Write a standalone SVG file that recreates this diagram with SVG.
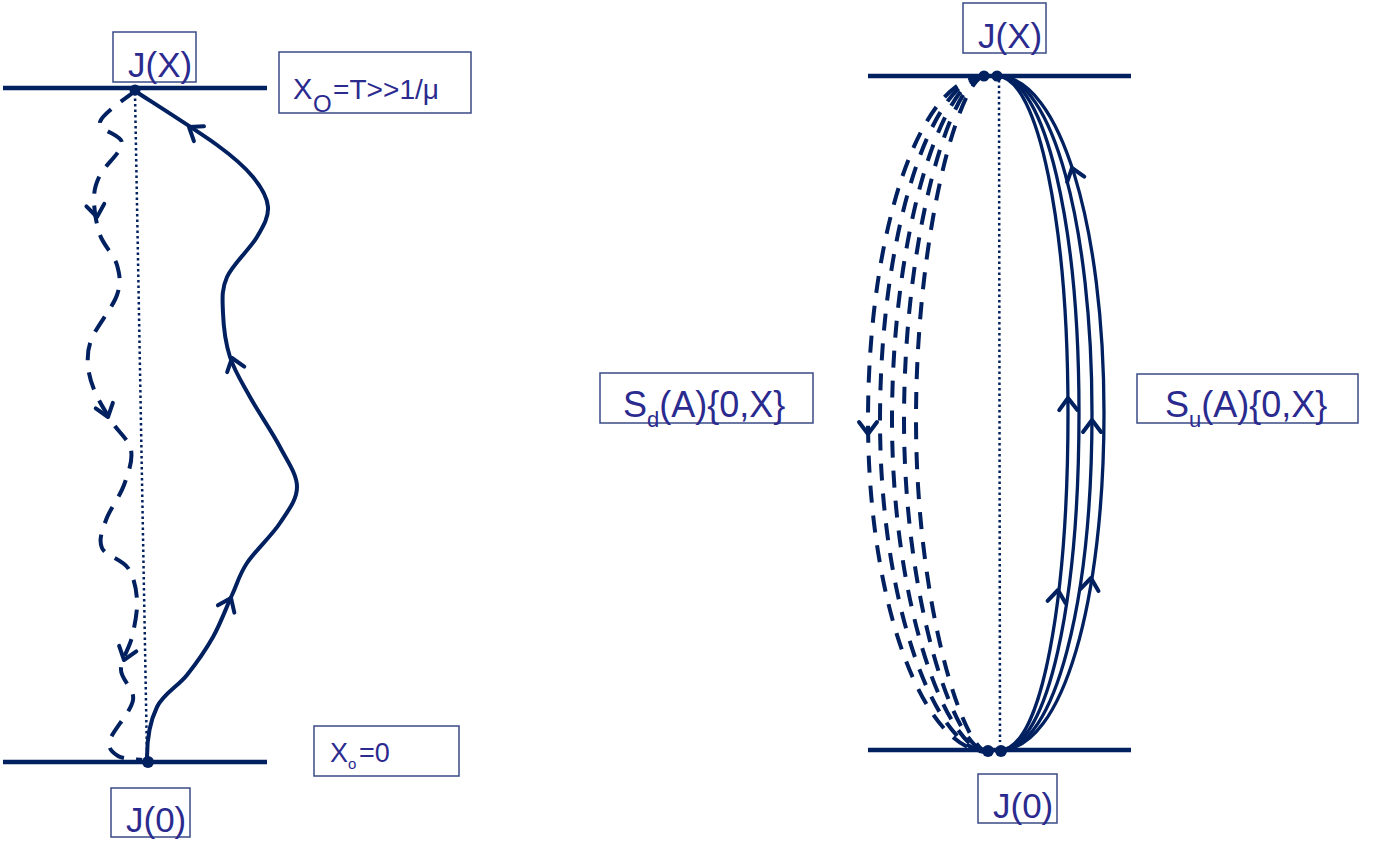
<svg xmlns="http://www.w3.org/2000/svg" xmlns:xlink="http://www.w3.org/1999/xlink" width="1375" height="842" viewBox="0 0 1375 842">
<style>
.axis{stroke:#002060;stroke-width:4.5;fill:none}
.dot{fill:#002060}
.dotted{stroke:#002060;stroke-width:2.5;stroke-dasharray:2.5 3;fill:none}
.sol{stroke:#002060;stroke-width:4;fill:none}
.dash{stroke:#002060;stroke-width:4;fill:none;stroke-dasharray:18 12}
.rsol{stroke:#002060;stroke-width:3.3;fill:none}
.rdash{stroke:#002060;stroke-width:4;fill:none;stroke-dasharray:17 13}
.chev{stroke:#002060;stroke-width:4;fill:none;stroke-linejoin:round;stroke-linecap:round}
.box{fill:none;stroke:#3a4a85;stroke-width:1.5}
.t{font-family:"Liberation Sans",Arial,sans-serif;fill:#2b2b8f}
</style>
<defs>
<path id="chev" d="M-9,12 L0,0 L9,12"/>
</defs>
<rect width="1375" height="842" fill="#ffffff"/>

<g id="left-axes">
<line class="axis" x1="3" y1="88" x2="267" y2="88"/>
<line class="axis" x1="3" y1="762" x2="267" y2="762"/>
<line class="dotted" x1="135" y1="93" x2="147" y2="757"/>
</g>

<g id="connectors">
<path class="sol" d="M147,757 C147,740 150.3,720.7 157,707 C163.7,693.3 177.7,686.7 187,675 C196.3,663.3 205.5,650.3 213,637 C220.5,623.7 226.3,607.3 232,595 C237.7,582.7 239,575 247,563 C255,551 271.7,535.7 280,523 C288.3,510.3 297,499.7 297,487 C297,474.3 287.8,462 280,447 C272.2,432 258.3,412 250,397 C241.7,382 234.5,371 230,357 C225.5,343 223.5,326.3 223,313 C222.5,299.7 221.3,289.7 227,277 C232.7,264.3 250.2,248.7 257,237 C263.8,225.3 268.7,217 268,207 C267.3,197 261.5,187.3 253,177 C244.5,166.7 236.7,159.3 217,145 C197.3,130.7 148.7,100 135,91"/>
<path class="dash" d="M135,91 C129.2,96.2 102.2,113.3 100,122 C97.8,130.7 122,134.2 122,143 C122,151.8 104.7,165.5 100,175 C95.3,184.5 94,190 94,200 C94,210 96.2,224.2 100,235 C103.8,245.8 114.2,255 117,265 C119.8,275 121.2,282.8 117,295 C112.8,307.2 96.8,326.3 92,338 C87.2,349.7 87.5,356 88,365 C88.5,374 91,382.5 95,392 C99,401.5 106,412.3 112,422 C118,431.7 129,439.5 131,450 C133,460.5 128.2,473.3 124,485 C119.8,496.7 109.7,509.5 106,520 C102.3,530.5 98.3,540 102,548 C105.7,556 122.2,559.3 128,568 C133.8,576.7 136.3,588.5 137,600 C137.7,611.5 134.7,625.3 132,637 C129.3,648.7 120.8,659.5 121,670 C121.2,680.5 134.8,688.3 133,700 C131.2,711.7 112.5,730.7 110,740 C107.5,749.3 112.7,752.7 118,756 C123.3,759.3 138,759.3 142,760"/>
<use href="#chev" class="chev" transform="translate(231,598) rotate(24)"/>
<use href="#chev" class="chev" transform="translate(232,358) rotate(-18)"/>
<use href="#chev" class="chev" transform="translate(189,127) rotate(-56)"/>
<use href="#chev" class="chev" transform="translate(97,217) rotate(172)"/>
<use href="#chev" class="chev" transform="translate(108,417) rotate(162)"/>
<use href="#chev" class="chev" transform="translate(124,660) rotate(198)"/>

<path class="rsol" d="M997,76 C1039,76 1068,228 1068,413 C1068,598 1042,750 1000,750"/>
<path class="rsol" d="M997,76 C1046,76 1079,228 1079,413 C1079,598 1049,750 1000,750"/>
<path class="rsol" d="M997,76 C1053,76 1092,228 1092,413 C1092,598 1056,750 1000,750"/>
<path class="rsol" d="M997,76 C1061,76 1104,228 1104,413 C1104,598 1064,750 1000,750"/>
<path class="rdash" d="M985,76 C920,76 868,231 868,420 C868,603 923,752 988,752"/>
<path class="rdash" d="M985,76 C932,76 880,231 880,420 C880,603 935,752 988,752"/>
<path class="rdash" d="M985,76 C943,76 892,231 892,420 C892,603 946,752 988,752"/>
<path class="rdash" d="M985,76 C952,76 904,231 904,420 C904,603 955,752 988,752"/>
<path class="rdash" d="M985,76 C960,76 916,231 916,420 C916,603 963,752 988,752"/>
<use href="#chev" class="chev" transform="translate(1072,168) rotate(-18)"/>
<use href="#chev" class="chev" transform="translate(1068,398) rotate(-1)"/>
<use href="#chev" class="chev" transform="translate(1092,420) rotate(0)"/>
<use href="#chev" class="chev" transform="translate(1058,590) rotate(7)"/>
<use href="#chev" class="chev" transform="translate(1091,578) rotate(7)"/>
<use href="#chev" class="chev" transform="translate(868,434) rotate(180)"/>
</g>

<g id="right-axes">
<line class="axis" x1="868" y1="76" x2="1131" y2="76"/>
<line class="axis" x1="868" y1="750" x2="1131" y2="750"/>
<line class="dotted" x1="999" y1="80" x2="1000" y2="742"/>
</g>

<g id="dots">
<circle class="dot" cx="135" cy="90" r="5.5"/>
<circle class="dot" cx="148" cy="762" r="6"/>
<circle class="dot" cx="984" cy="76" r="5.5"/>
<circle class="dot" cx="997" cy="76" r="5.5"/>
<circle class="dot" cx="988" cy="751" r="6"/>
<circle class="dot" cx="1001" cy="751" r="6"/>
</g>

<g id="label-JX-left">
<rect class="box" x="113" y="32" width="83" height="50"/>
<text class="t" x="128" y="77" font-size="35">J(X)</text>
</g>
<g id="label-J0-left">
<rect class="box" x="111" y="788" width="79" height="49"/>
<text class="t" x="126" y="832" font-size="35">J(0)</text>
</g>
<g id="label-XO-T">
<rect class="box" x="279" y="52" width="192" height="61"/>
<text class="t" x="293" y="99" font-size="29">X</text>
<text class="t" x="313" y="112" font-size="24">O</text>
<text class="t" x="333" y="99" font-size="27" textLength="106" lengthAdjust="spacingAndGlyphs">=T&gt;&gt;1/μ</text>
</g>
<g id="label-Xo-0">
<rect class="box" x="314" y="726" width="145" height="50"/>
<text class="t" x="330" y="762" font-size="27">X</text>
<text class="t" x="348" y="769" font-size="15">o</text>
<text class="t" x="359" y="762" font-size="27">=0</text>
</g>
<g id="label-JX-right">
<rect class="box" x="963" y="3" width="83" height="50"/>
<text class="t" x="978" y="48" font-size="35">J(X)</text>
</g>
<g id="label-J0-right">
<rect class="box" x="978" y="774" width="79" height="49"/>
<text class="t" x="993" y="818" font-size="35">J(0)</text>
</g>
<g id="label-Sd">
<rect class="box" x="600" y="373" width="213" height="50"/>
<text class="t" x="623" y="417" font-size="36">S<tspan font-size="22" dy="10">d</tspan><tspan dy="-10">(A){0,X}</tspan></text>
</g>
<g id="label-Su">
<rect class="box" x="1137" y="374" width="221" height="49"/>
<text class="t" x="1165" y="417" font-size="36">S<tspan font-size="22" dy="10">u</tspan><tspan dy="-10">(A){0,X}</tspan></text>
</g>
</svg>
